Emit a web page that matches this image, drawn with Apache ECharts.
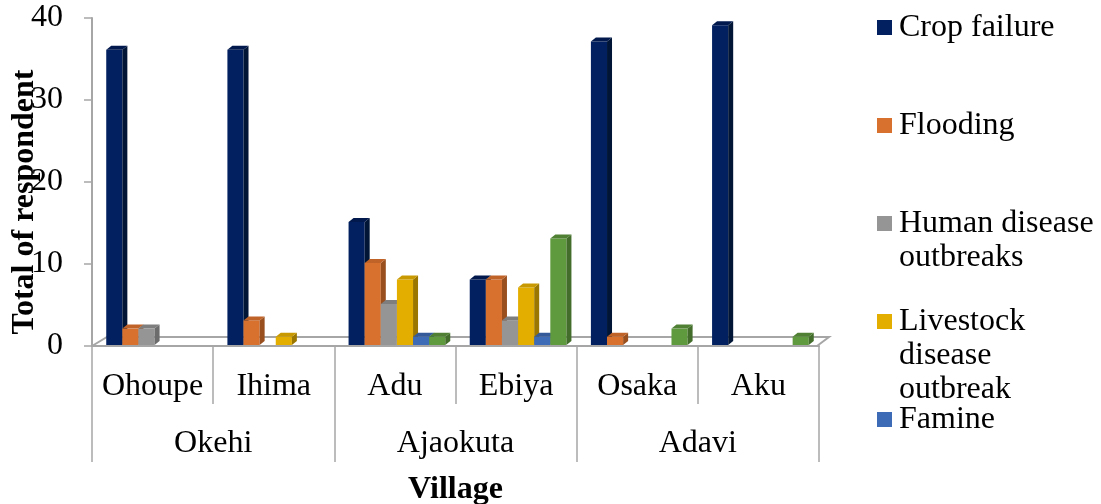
<!DOCTYPE html>
<html>
<head>
<meta charset="utf-8">
<script src="https://cdn.jsdelivr.net/npm/echarts@6/dist/echarts.min.js"></script>
<style>
  html, body { margin: 0; padding: 0; background: #ffffff; }
  #chart { width: 1101px; height: 504px; }
</style>
</head>
<body>
<div id="chart"></div>
<script>
// Respondents per village, grouped by local government area
const villages = ['Ohoupe', 'Ihima', 'Adu', 'Ebiya', 'Osaka', 'Aku'];
const lgas = ['Okehi', 'Ajaokuta', 'Adavi'];

const cropFailure      = [36, 36, 15, 8, 37, 39];
const flooding         = [2, 3, 10, 8, 1, 0];
const humanDisease     = [2, 0, 5, 3, 0, 0];
const livestockDisease = [0, 1, 8, 7, 0, 0];
const famine           = [0, 0, 1, 1, 0, 0];
const others           = [0, 0, 1, 13, 2, 1];

const yTicks = [0, 10, 20, 30, 40];

const seriesNames = ['Crop failure', 'Flooding', 'Human disease outbreaks',
  'Livestock disease outbreak', 'Famine', 'Other'];
const legendLines = {
  'Crop failure': ['Crop failure'],
  'Flooding': ['Flooding'],
  'Human disease outbreaks': ['Human disease', 'outbreaks'],
  'Livestock disease outbreak': ['Livestock', 'disease', 'outbreak'],
  'Famine': ['Famine']
};
const seriesValues = [cropFailure, flooding, humanDisease, livestockDisease, famine, others];

// front / top / side shades for the 3-D columns
const palette = [
  { face: '#022060', top: '#01194c', side: '#011536' },
  { face: '#D8702E', top: '#BF6329', side: '#9A4F1F' },
  { face: '#959595', top: '#7E7E7E', side: '#6C6C6C' },
  { face: '#E4AE00', top: '#C89900', side: '#9C7700' },
  { face: '#3E6BB5', top: '#345A9A', side: '#2C4C80' },
  { face: '#609A3E', top: '#4F8033', side: '#436D2B' }
];

const FONT = "'Liberation Serif', 'Times New Roman', serif";
const FS = 32;
const DX = 5, DY = 4;            // column depth offset
const SLOTS = 6;

function columnRenderer(slot, colors) {
  return function (params, api) {
    const v = api.value(1);
    if (!v) return null;
    const cat = api.value(0);
    const base = api.coord([cat, 0]);
    const tip = api.coord([cat, v]);
    const band = api.size([1, 0])[0];
    const w = band * 0.133;
    const x0 = base[0] - (SLOTS / 2) * w + 2 + slot * w;
    const x1 = x0 + w;
    const yb = base[1] - 1;
    const yt = tip[1] - 1;
    return {
      type: 'group',
      children: [
        { type: 'rect', shape: { x: x0, y: yt, width: w, height: yb - yt },
          style: { fill: colors.face } },
        { type: 'polygon', shape: { points: [[x1, yt], [x1 + DX, yt - DY], [x1 + DX, yb - DY], [x1, yb]] },
          style: { fill: colors.side } },
        { type: 'polygon', shape: { points: [[x0, yt], [x0 + DX, yt - DY], [x1 + DX, yt - DY], [x1, yt]] },
          style: { fill: colors.top } }
      ]
    };
  };
}

// floor of the 3-D plot area
function floorRenderer(params, api) {
  const cs = params.coordSys;
  const yf = api.coord([0, 0])[1];
  const xl = cs.x, xr = cs.x + cs.width;
  return {
    type: 'polyline',
    shape: { points: [[xl, yf], [xl + 15, yf - 9], [xr + 10, yf - 9], [xr - 2, yf]] },
    style: { stroke: '#A6A6A6', lineWidth: 2, fill: null }
  };
}

const series = [{
  type: 'custom',
  name: 'floor',
  silent: true,
  z: 1,
  renderItem: floorRenderer,
  encode: { x: 0, y: 1 },
  data: [[0, 0]]
}];
seriesValues.forEach(function (vals, i) {
  series.push({
    type: 'custom',
    name: seriesNames[i],
    z: 2,
    itemStyle: { color: palette[i].face },
    renderItem: columnRenderer(i, palette[i]),
    encode: { x: 0, y: 1 },
    data: vals.map(function (v, k) { return [k, v]; })
  });
});

// one legend block per entry; wrapped entries keep their first line beside the marker
// (blank lines above balance the vertically centred text block)
const LH = 34;
const iconTops = [20, 118, 216, 314, 412];
const legends = seriesNames.slice(0, 5).map(function (name, i) {
  const lines = legendLines[name];
  const n = lines.length;
  const pad = new Array(n - 1).fill('');
  const extent = (2 * n - 1) * LH / 2 - 7.5;
  return {
    data: [name],
    left: 877,
    top: iconTops[i] - extent,
    padding: 0,
    icon: 'rect',
    itemWidth: 15,
    itemHeight: 15,
    selectedMode: false,
    formatter: function () { return pad.concat(lines).join('\n'); },
    textStyle: { fontFamily: FONT, fontSize: FS, color: '#000', lineHeight: LH, padding: [0, 0, 0, 2] }
  };
});

const chart = echarts.init(document.getElementById('chart'), null, { renderer: 'canvas' });
chart.setOption({
  animation: false,
  backgroundColor: '#ffffff',
  legend: legends,
  grid: { left: 92, top: 18, width: 727, height: 328, outerBoundsMode: 'none', containLabel: false },
  xAxis: [{
    type: 'category',
    data: villages,
    position: 'bottom',
    axisLine: { show: true, lineStyle: { color: '#A6A6A6', width: 2 } },
    axisTick: { show: true, interval: 0, length: 58, lineStyle: { color: '#A6A6A6', width: 1.5 } },
    axisLabel: { interval: 0, margin: 25, fontFamily: FONT, fontSize: FS, color: '#000' },
    splitLine: { show: false }
  }, {
    type: 'category',
    data: lgas,
    position: 'bottom',
    axisLine: { show: false },
    axisTick: { show: true, interval: 0, length: 116, lineStyle: { color: '#A6A6A6', width: 1.5 } },
    axisLabel: { interval: 0, margin: 82, fontFamily: FONT, fontSize: FS, color: '#000' },
    name: 'Village',
    nameLocation: 'middle',
    nameGap: 128,
    nameTextStyle: { fontFamily: FONT, fontSize: FS, fontWeight: 'bold', color: '#000' },
    splitLine: { show: false }
  }],
  yAxis: {
    type: 'value',
    min: yTicks[0],
    max: yTicks[yTicks.length - 1],
    interval: yTicks[1] - yTicks[0],
    axisLine: { show: true, lineStyle: { color: '#A6A6A6', width: 2 } },
    axisTick: { show: true, length: 8, lineStyle: { color: '#A6A6A6', width: 1.5 } },
    axisLabel: { margin: 29, fontFamily: FONT, fontSize: FS, color: '#000' },
    splitLine: { show: false },
    name: 'Total of respondent',
    nameLocation: 'middle',
    nameRotate: 90,
    nameGap: 51,
    nameMoveOverlap: false,
    nameTextStyle: { fontFamily: FONT, fontSize: FS, fontWeight: 'bold', color: '#000',
      padding: [0, 40, 0, 0] }
  },
  series: series
});
</script>
</body>
</html>
